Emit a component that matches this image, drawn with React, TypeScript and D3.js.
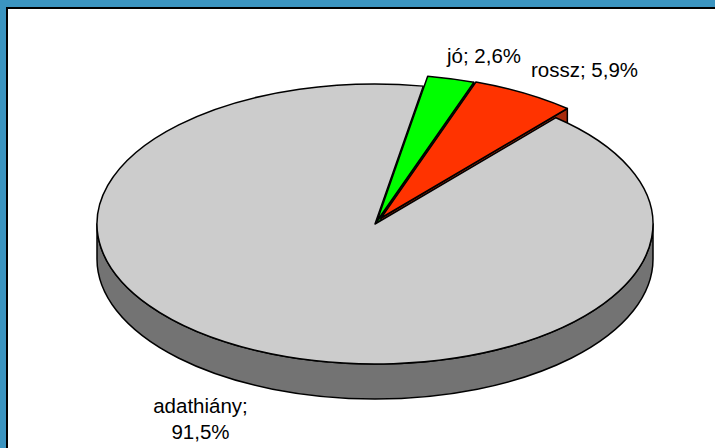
import * as d3 from "d3";

const categories = ["jó", "rossz", "adathiány"];
const values = [2.6, 5.9, 91.5];
const topColors = ["#00ff00", "#ff3300", "#cccccc"];
const wallColors = ["#0b7f0b", "#a82a0c", "#737373"];

const WIDTH = 715;
const HEIGHT = 448;
const cx = 375;
const cy = 224;
const rx = 278;
const ry = 140;
const depth = 35;
// exploded slices sit a little away from the centre and reach a bit further out
const offsets = [
  [2, -3],
  [6, -6],
  [0, 0],
];
const reach = [1.05, 1.03, 1];

const labelLines = [["jó; 2,6%"], ["rossz; 5,9%"], ["adathiány;", "91,5%"]];
const labelPos = [
  [484, 63],
  [584.5, 77],
  [200.5, 413],
];

const startAngle = (10 * Math.PI) / 180;

const pie = d3
  .pie<number>()
  .sort(null)
  .startAngle(startAngle)
  .endAngle(startAngle + 2 * Math.PI);

const arcs = pie(values);

const px = (a: number, k: number) => Math.sin(a) * rx * k;
const py = (a: number, k: number) => -Math.cos(a) * ry * k;

// top face of a slice, on the flattened ellipse
function topPath(a0: number, a1: number, k: number) {
  const large = a1 - a0 > Math.PI ? 1 : 0;
  return `M0,0L${px(a0, k)},${py(a0, k)}A${rx * k},${ry * k} 0 ${large} 1 ${px(a1, k)},${py(a1, k)}Z`;
}

// the flat cut face below a slice's clockwise edge
function cutPath(a: number, k: number) {
  return `M0,0L${px(a, k)},${py(a, k)}v${depth}L0,${depth}Z`;
}

// outer rim of the full disc, only the front half shows
function rimPath() {
  return `M${-rx},0A${rx},${ry} 0 0 0 ${rx},0v${depth}A${rx},${ry} 0 0 1 ${-rx},${depth}Z`;
}

export default function App() {
  return (
    <svg
      width={WIDTH}
      height={HEIGHT}
      viewBox={`0 0 ${WIDTH} ${HEIGHT}`}
      style={{ position: "absolute", left: 0, top: 0, background: "#ffffff" }}
      fontFamily="'Liberation Sans', Arial, sans-serif"
    >
      {/* window frame */}
      <rect x={0} y={0} width={WIDTH} height={7} fill="#3b94c0" />
      <rect x={0} y={0} width={6} height={HEIGHT} fill="#3b94c0" />
      <rect x={6} y={7} width={WIDTH - 6} height={2} fill="#000000" />
      <rect x={6} y={7} width={2} height={HEIGHT - 7} fill="#000000" />

      <g transform={`translate(${cx},${cy})`} stroke="#000000" strokeWidth={1.5} strokeLinejoin="round">
        <path d={rimPath()} fill={wallColors[2]} />
        {arcs.slice(0, 2).map((d, i) => (
          <path
            key={categories[i]}
            transform={`translate(${offsets[i][0]},${offsets[i][1]})`}
            d={cutPath(d.endAngle, reach[i])}
            fill={wallColors[i]}
          />
        ))}
        {/* grey slice first so the lifted slices lie over it */}
        {[2, 0, 1].map((i) => (
          <path
            key={categories[i]}
            transform={`translate(${offsets[i][0]},${offsets[i][1]})`}
            d={topPath(arcs[i].startAngle, arcs[i].endAngle, reach[i])}
            fill={topColors[i]}
          />
        ))}
      </g>

      {labelLines.map((lines, i) => (
        <text
          key={categories[i]}
          x={labelPos[i][0]}
          y={labelPos[i][1]}
          textAnchor="middle"
          fontSize={20.5}
          fill="#000000"
        >
          {lines.map((line, j) => (
            <tspan key={line} x={labelPos[i][0]} dy={j === 0 ? 0 : 26}>
              {line}
            </tspan>
          ))}
        </text>
      ))}
    </svg>
  );
}
